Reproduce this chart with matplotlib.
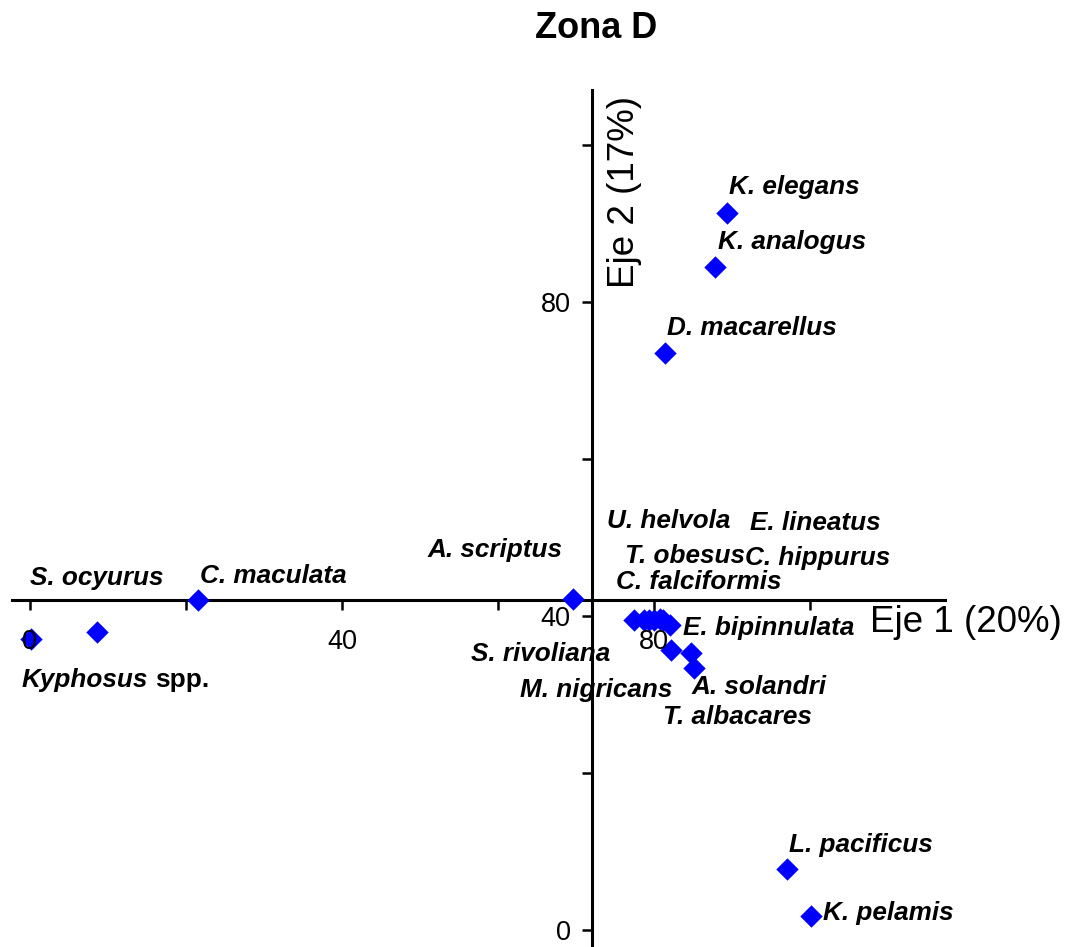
import matplotlib
matplotlib.use("Agg")
import matplotlib.pyplot as plt

plt.rcParams['font.family'] = ['Liberation Sans', 'DejaVu Sans']

# Coordenadas de las especies en los dos primeros ejes
especies = ['K. elegans', 'K. analogus', 'D. macarellus', 'A. scriptus',
            'C. maculata', 'S. ocyurus', 'Kyphosus', 'L. pacificus',
            'K. pelamis', 'S. rivoliana', 'C. falciformis', 'E. lineatus',
            'T. obesus', 'U. helvola', 'C. hippurus', 'E. bipinnulata',
            'M. nigricans', 'A. solandri', 'T. albacares']
eje1 = [89.3, 87.8, 81.4, 69.6, 21.5, 8.6, 0.1, 97.0, 100.1,
        77.4, 78.7, 79.4, 80.0, 80.8, 81.2, 82.1, 82.2, 84.7, 85.1]
eje2 = [91.3, 84.5, 73.5, 42.2, 42.0, 38.0, 37.0, 7.8, 1.7,
        39.5, 39.5, 39.5, 39.5, 39.6, 39.5, 38.8, 35.6, 35.2, 33.3]

ticks = [0, 20, 40, 60, 80, 100]
tick_labels = ['0', '', '40', '', '80', '']
cruce = (72, 42)  # punto donde se cortan los ejes

# desplazamiento de cada etiqueta (pixeles) y alineación
desp = [(2, 26), (3, 25), (2, 25), (-10, 49), (2, 24), (-67, 54), (-9, -41),
        (2, 24), (12, 3), (-23, -34), (-28, 38), (101, 97), (-29, 64),
        (-53, 98), (82, 62), (13, -3), (1, -40), (1, -34), (-31, -49)]
alin = ['left', 'left', 'left', 'right', 'left', 'left', 'left', 'left',
        'left', 'right', 'left', 'left', 'left', 'left', 'left', 'left',
        'right', 'left', 'left']

fig = plt.figure(figsize=(10.7, 9.47), dpi=100)
ax = fig.add_axes([12 / 1070, 0.0, 933 / 1070, 857 / 947])

# rombos encima de las líneas de los ejes, pero debajo de los números
ax.scatter(eje1, eje2, marker='D', s=130, color='#0000FF', linewidths=0,
           zorder=1.2, clip_on=False)

for nombre, x, y, (dx, dy), ha in zip(especies, eje1, eje2, desp, alin):
    ax.annotate(nombre, (x, y), xytext=(dx, dy), textcoords='offset pixels',
                ha=ha, va='center', fontsize=18.8, fontweight='bold',
                fontstyle='italic', zorder=4)
# "spp." va sin cursiva
i = especies.index('Kyphosus')
ax.annotate('spp.', (eje1[i], eje2[i]), xytext=(124, -41),
            textcoords='offset pixels', ha='left', va='center',
            fontsize=18.8, fontweight='bold')

ax.set_xlim(-2.3, 117.3)
ax.set_ylim(-2.2, 107.0)

ax.spines['top'].set_visible(False)
ax.spines['right'].set_visible(False)
ax.spines['left'].set_position(('data', cruce[0]))
ax.spines['bottom'].set_position(('data', cruce[1]))
for lado in ('left', 'bottom'):
    ax.spines[lado].set_linewidth(2.2)
    ax.spines[lado].set_zorder(1)

ax.set_xticks(ticks)
ax.set_xticklabels(tick_labels)
ax.set_yticks(ticks)
ax.set_yticklabels(tick_labels)
ax.tick_params(axis='x', direction='out', length=7, width=1.8, pad=14,
               labelsize=19.5)
ax.tick_params(axis='y', direction='out', length=7, width=1.8, pad=8,
               labelsize=19.5)

fig.text(870 / 1070, 1 - 622 / 947, 'Eje 1 (20%)', fontsize=26.5,
         ha='left', va='center')
fig.text(624 / 1070, 1 - 192 / 947, 'Eje 2 (17%)', fontsize=26.5,
         rotation=90, ha='center', va='center')
fig.text(596 / 1070, 1 - 28 / 947, 'Zona D', fontsize=26,
         fontweight='bold', ha='center', va='center')

fig.savefig('out.png', dpi=100)
